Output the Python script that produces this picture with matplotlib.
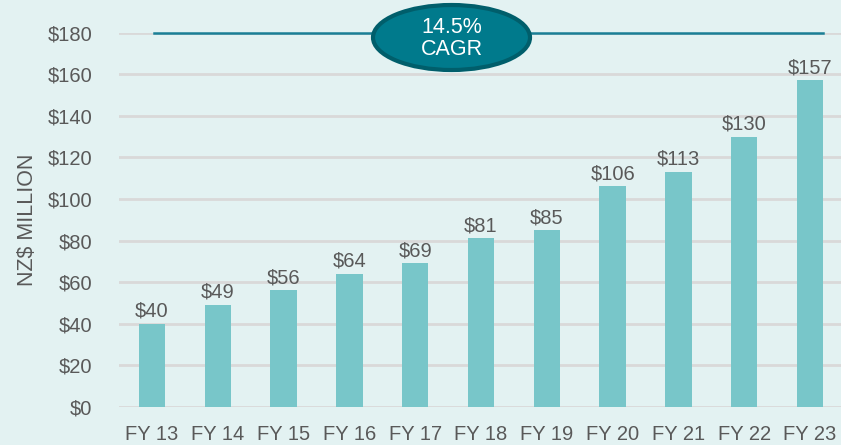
import matplotlib.pyplot as plt
from matplotlib.patches import Ellipse

plt.rcParams['font.family'] = ['Liberation Sans', 'DejaVu Sans']

years = ["FY 13", "FY 14", "FY 15", "FY 16", "FY 17", "FY 18",
         "FY 19", "FY 20", "FY 21", "FY 22", "FY 23"]
revenue = [40, 49, 56, 64, 69, 81, 85, 106, 113, 130, 157]
cagr_text = "14.5%\nCAGR"

bg = "#e3f2f2"
bar_col = "#78c6c9"
txt_col = "#595959"
grid_col = "#d9d9d9"
teal = "#007a8c"
fs = 14.5

fig = plt.figure(figsize=(8.41, 4.45), dpi=100, facecolor=bg)
ax = fig.add_axes([119 / 841, 1 - 407 / 445, 724 / 841, (407 - 32.5) / 445])
ax.set_facecolor(bg)

x = list(range(len(years)))
ax.bar(x, revenue, width=0.4, color=bar_col, zorder=3)
for xi, v in zip(x, revenue):
    ax.text(xi, v + 1.5, "${}".format(v), ha="center", va="bottom",
            fontsize=fs, color=txt_col, zorder=4)

ax.set_ylim(0, 180)
ax.set_xlim(-0.5, 10.5)
ax.set_yticks(range(0, 181, 20))
ax.set_yticklabels(["${}".format(t) for t in range(0, 181, 20)])
ax.set_xticks(x)
ax.set_xticklabels(years)
ax.tick_params(length=0, labelsize=fs, labelcolor=txt_col)
ax.tick_params(axis="y", pad=19)
ax.tick_params(axis="x", pad=13)
ax.yaxis.grid(True, color=grid_col, linewidth=2, zorder=0)
ax.set_axisbelow(True)
for s in ax.spines.values():
    s.set_visible(False)
ax.set_ylabel("NZ$ MILLION", fontsize=15.5, color=txt_col, labelpad=7)

# CAGR line across the top
ax.plot([0.03, 10.2], [180, 180], color="#1a7f96", linewidth=1.8,
        zorder=5, clip_on=False)

ell = Ellipse((451.5 / 841, 1 - 37.5 / 445), 157 / 841, 65 / 445,
              transform=fig.transFigure, facecolor=teal, edgecolor="#005e6b",
              linewidth=3, zorder=10)
fig.patches.append(ell)
fig.text(451.5 / 841, 1 - 38.5 / 445, cagr_text, ha="center", va="center",
         fontsize=15.5, color="white", linespacing=1.05, zorder=11)

fig.savefig("out.png", dpi=100, facecolor=bg)
